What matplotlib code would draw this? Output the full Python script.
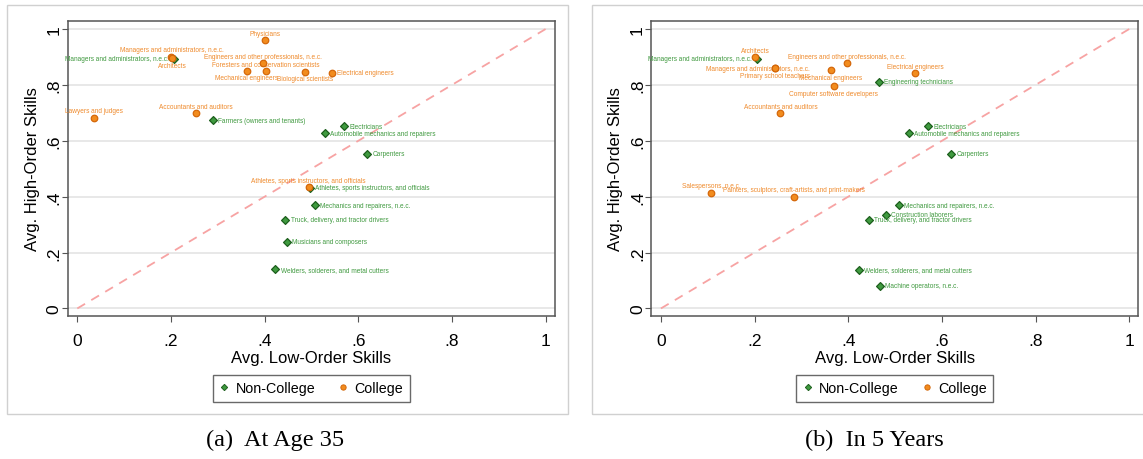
import numpy as np
import matplotlib
matplotlib.use("Agg")
import matplotlib.pyplot as plt
from matplotlib.patches import Rectangle
from matplotlib.lines import Line2D

plt.rcParams['font.family'] = ['Liberation Sans', 'DejaVu Sans']

############################################
# data: (a) at age 35

a_col_names = ["Physicians", "Managers and administrators, n.e.c.", "Architects",
               "Engineers and other professionals, n.e.c.",
               "Foresters and conservation scientists", "Mechanical engineers",
               "Biological scientists", "Electrical engineers", "Lawyers and judges",
               "Accountants and auditors",
               "Athletes, sports instructors, and officials"]
a_col_x = [0.401, 0.201, 0.203, 0.396, 0.402, 0.362, 0.486, 0.543, 0.035, 0.253, 0.494]
a_col_y = [0.960, 0.901, 0.897, 0.878, 0.849, 0.851, 0.847, 0.843, 0.682, 0.698, 0.434]

a_non_names = ["Managers and administrators, n.e.c.", "Farmers (owners and tenants)",
               "Electricians", "Automobile mechanics and repairers", "Carpenters",
               "Athletes, sports instructors, and officials",
               "Mechanics and repairers, n.e.c.", "Truck, delivery, and tractor drivers",
               "Musicians and composers", "Welders, solderers, and metal cutters"]
a_non_x = [0.206, 0.289, 0.569, 0.529, 0.619, 0.496, 0.507, 0.444, 0.447, 0.423]
a_non_y = [0.893, 0.674, 0.652, 0.627, 0.554, 0.432, 0.369, 0.317, 0.239, 0.140]

############################################
# data: (b) in 5 years

b_col_names = ["Architects", "Managers and administrators, n.e.c.",
               "Primary school teachers", "Engineers and other professionals, n.e.c.",
               "Mechanical engineers", "Computer software developers",
               "Accountants and auditors", "Electrical engineers",
               "Salespersons, n.e.c.",
               "Painters, sculptors, craft-artists, and print-makers"]
b_col_x = [0.201, 0.243, 0.244, 0.397, 0.363, 0.369, 0.255, 0.543, 0.108, 0.284]
b_col_y = [0.900, 0.860, 0.859, 0.878, 0.852, 0.795, 0.698, 0.842, 0.414, 0.400]

b_non_names = ["Managers and administrators, n.e.c.", "Engineering technicians",
               "Electricians", "Automobile mechanics and repairers", "Carpenters",
               "Mechanics and repairers, n.e.c.", "Construction laborers",
               "Truck, delivery, and tractor drivers",
               "Welders, solderers, and metal cutters", "Machine operators, n.e.c."]
b_non_x = [0.206, 0.466, 0.570, 0.529, 0.620, 0.508, 0.480, 0.444, 0.423, 0.467]
b_non_y = [0.894, 0.811, 0.652, 0.627, 0.554, 0.370, 0.335, 0.317, 0.139, 0.082]

ticks = [0, 0.2, 0.4, 0.6, 0.8, 1]
tick_labels = ["0", ".2", ".4", ".6", ".8", "1"]

############################################
# label placement (clock-ish positions)
a_col_pos = ['t', 't', 'b', 't', 't', 'b', 'b', 'r', 't', 't', 't']
a_non_pos = ['l'] + ['r'] * 9
b_col_pos = ['t', 'm', 'b', 't', 'b', 'b', 't', 't', 't', 't']
b_non_pos = ['l'] + ['r'] * 9

OR_FILL, OR_EDGE, OR_TXT = '#f28c1e', '#d4670a', '#ef8a2c'
GR_FILL, GR_EDGE, GR_TXT = '#3f9a3f', '#1d5f1d', '#3f993f'
LAB_FS = 4.7

W, H = 1143, 460
fig = plt.figure(figsize=(W / 100, H / 100), dpi=100)


def put_labels(ax, names, xs, ys, pos, color):
    for n, x, y, p in zip(names, xs, ys, pos):
        if p == 't':
            off, ha = (0, 5), 'center'
        elif p == 'b':
            off, ha = (0, -5.2), 'center'
        elif p == 'r':
            off, ha = (3.8, 0), 'left'
        elif p == 'l':
            off, ha = (-3.8, 0), 'right'
        else:
            off, ha = (-12, 0), 'center'
        ax.annotate(n, (x, y), xytext=off, textcoords='offset points',
                    ha=ha, va='center', fontsize=LAB_FS, color=color)


def draw(left_px, nnames, nx, ny, npos, cnames, cx, cy, cpos, caption, cap_x):
    ax = fig.add_axes([left_px / W, (H - 317) / H, 487 / W, 295.3 / H])
    ax.set_xlim(-0.0205, 1.0193)
    ax.set_ylim(-0.027, 1.0297)
    for t in ticks:
        ax.axhline(t, color='#e8e8e8', lw=1.4, zorder=0)
    ax.plot([0, 1], [0, 1], ls=(0, (5, 4)), color='#f7a3a3', lw=1.3, zorder=1)

    ax.scatter(nx, ny, marker='D', s=16, facecolor=GR_FILL, edgecolor=GR_EDGE,
               linewidths=0.9, zorder=3)
    ax.scatter(cx, cy, marker='o', s=22, facecolor=OR_FILL, edgecolor=OR_EDGE,
               linewidths=0.9, zorder=4)
    put_labels(ax, nnames, nx, ny, npos, GR_TXT)
    put_labels(ax, cnames, cx, cy, cpos, OR_TXT)

    for s in ax.spines.values():
        s.set_color('#555555')
        s.set_linewidth(1.1)
    ax.set_xticks(ticks)
    ax.set_xticklabels(tick_labels)
    ax.set_yticks(ticks)
    ax.set_yticklabels(tick_labels, rotation=90, va='center')
    ax.tick_params(length=4, width=0.8, color='#555555', labelsize=12.5)
    ax.tick_params(axis='x', pad=8.5)
    ax.tick_params(axis='y', pad=0.5)
    ax.set_xlabel("Avg. Low-Order Skills", fontsize=12, labelpad=1.5)
    ax.set_ylabel("Avg. High-Order Skills", fontsize=12, labelpad=5)

    handles = [Line2D([], [], ls='', marker='D', ms=3.2, mfc=GR_FILL, mec=GR_EDGE,
                      mew=0.7, label='Non-College'),
               Line2D([], [], ls='', marker='o', ms=3.8, mfc=OR_FILL, mec=OR_EDGE,
                      mew=0.7, label='College')]
    leg = ax.legend(handles=handles, loc='upper center', bbox_to_anchor=(0.5, -0.2),
                    ncol=2, fontsize=10.3, frameon=True, fancybox=False,
                    handlelength=0.7, handletextpad=0.45, columnspacing=1.6,
                    borderpad=0.45, borderaxespad=0)
    leg.get_frame().set_edgecolor('#444444')
    leg.get_frame().set_linewidth(1.0)

    fig.text(cap_x / W, 1 - 440 / H, caption, ha='center', va='center',
             fontsize=17.5, family='Liberation Serif')
    return ax


draw(67.7, a_non_names, a_non_x, a_non_y, a_non_pos,
     a_col_names, a_col_x, a_col_y, a_col_pos, "(a)  At Age 35", 275)
draw(651.3, b_non_names, b_non_x, b_non_y, b_non_pos,
     b_col_names, b_col_x, b_col_y, b_col_pos, "(b)  In 5 Years", 874)

# outer graph region boxes
for x0, x1 in [(6.7, 568.3), (591.7, 1150)]:
    fig.add_artist(Rectangle((x0 / W, 1 - 415 / H), (x1 - x0) / W, (415 - 6) / H,
                             transform=fig.transFigure, fill=False,
                             edgecolor='#d0d0d0', lw=1.0))

fig.savefig("out.png", dpi=100)
